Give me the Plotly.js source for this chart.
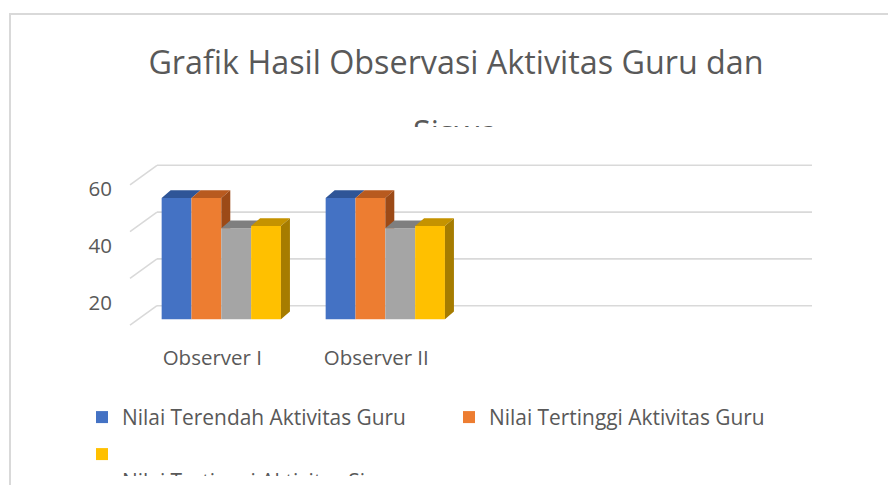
<!DOCTYPE html>
<html><head><meta charset="utf-8">
<script src="https://cdn.plot.ly/plotly-3.0.1.min.js"></script>
<style>
html,body{margin:0;padding:0;background:#fff;overflow:hidden;width:888px;height:485px;}
#chart{position:absolute;left:0;top:0;width:888px;height:510px;}
.mask{position:absolute;background:#fff;}
</style></head><body>
<div id="chart"></div>
<div class="mask" style="left:380px;top:127px;width:160px;height:22px;"></div>
<div class="mask" style="left:14px;top:476px;width:874px;height:40px;"></div>
<script>
// ---- data ----
const categories = ["Observer I", "Observer II"];
const seriesNames = [
  "Nilai Terendah Aktivitas Guru",
  "Nilai Tertinggi Aktivitas Guru",
  "Nilai Terendah Aktivitas Siswa",
  "Nilai Tertinggi Aktivitas Siswa"
];
const terendahGuru = [52, 52];
const tertinggiGuru = [52, 52];
const terendahSiswa = [39, 39];
const tertinggiSiswa = [40, 40];
const yTickVals = [20, 40, 60];
const gridValues = [0, 20, 40, 60];
const titleLine1 = "Grafik Hasil Observasi Aktivitas Guru dan";
const titleLine2 = "Siswa";

// ---- styles ----
const frontColors = ["#4472C4", "#ED7D31", "#A5A5A5", "#FFC000"];
const topColors   = ["#2F5597", "#B85A1F", "#7F7F7F", "#C59300"];
const sideColors  = ["#27477F", "#9C4A17", "#6B6B6B", "#A67C00"];
const legendOf    = ["legend", "legend", null, "legend2"];
const FONT = "'Open Sans', 'Noto Sans', sans-serif";
const TXT = "#595959";
const W = 888, H = 510;
const px = x => x / W;
const py = y => 1 - y / H;

const seriesValues = [terendahGuru, tertinggiGuru, terendahSiswa, tertinggiSiswa];
const nS = seriesValues.length;
const bargap = 0.2727;
const groupW = 1 - bargap;
const bw = groupW / nS;
const dX = 9 / 164;   // depth offset in category units
const dY = 3.3;       // depth offset in value units

function topPoly(L, R, h, h1) {
  if (h1 == null || h1 <= h) return [[L,h],[R,h],[R+dX,h+dY],[L+dX,h+dY]];
  if (h1 >= h + dY) return [[L,h],[R,h],[R,h+dY],[L+dX,h+dY]];
  const xc = R + (h1 - h) / dY * dX;
  return [[L,h],[R,h],[R,h1],[xc,h1],[R+dX,h+dY],[L+dX,h+dY]];
}
function sidePoly(R, h, h1) {
  if (h1 == null) return [[R,0],[R,h],[R+dX,h+dY],[R+dX,dY]];
  if (h1 >= h) return null;
  return [[R,h1],[R,h],[R+dX,h+dY],[R+dX,h1]];
}

const traces = [];
// front faces: real bars
seriesValues.forEach((vals, j) => {
  const t = {
    type: "bar", name: seriesNames[j], x: categories, y: vals,
    marker: {color: frontColors[j], line: {width: 0}},
    xaxis: "x", yaxis: "y", hoverinfo: "skip"
  };
  if (legendOf[j]) { t.legend = legendOf[j]; } else { t.showlegend = false; }
  if (j === 3) t.name = "\u00a0<br>" + seriesNames[j];
  traces.push(t);
});
// top and side faces derived from the same values
seriesValues.forEach((vals, j) => {
  const tx = [], ty = [], sx = [], sy = [];
  categories.forEach((c, i) => {
    const L = i - groupW / 2 + j * bw, R = L + bw;
    const h = vals[i];
    const h1 = j < nS - 1 ? seriesValues[j + 1][i] : null;
    topPoly(L, R, h, h1).forEach(p => { tx.push(p[0]); ty.push(p[1]); });
    tx.push(null); ty.push(null);
    const sp = sidePoly(R, h, h1);
    if (sp) { sp.forEach(p => { sx.push(p[0]); sy.push(p[1]); }); sx.push(null); sy.push(null); }
  });
  traces.push({type: "scatter", mode: "lines", x: tx, y: ty, fill: "toself",
    fillcolor: topColors[j], line: {width: 0, color: topColors[j]},
    xaxis: "x2", yaxis: "y", showlegend: false, hoverinfo: "skip"});
  if (sx.length) traces.push({type: "scatter", mode: "lines", x: sx, y: sy, fill: "toself",
    fillcolor: sideColors[j], line: {width: 0, color: sideColors[j]},
    xaxis: "x2", yaxis: "y", showlegend: false, hoverinfo: "skip"});
});
// helper traces so that the grid & label axes exist
traces.push({type: "scatter", x: [], y: [], xaxis: "x", yaxis: "y3", showlegend: false, hoverinfo: "skip"});
traces.push({type: "scatter", x: [], y: [], xaxis: "x", yaxis: "y4", showlegend: false, hoverinfo: "skip"});

// back wall grid + floor diagonals
const GRID = "#d9d9d9";
const shapes = [];
gridValues.forEach(v => {
  shapes.push({type: "line", layer: "below", xref: "paper", x0: px(157), x1: px(812),
    yref: "y3", y0: v, y1: v, line: {color: GRID, width: 1.6}});
  shapes.push({type: "line", layer: "below", xref: "paper", xsizemode: "pixel", xanchor: px(157),
    x0: -27, x1: 0, yref: "y3", ysizemode: "pixel", yanchor: v, y0: -19.5, y1: 0,
    line: {color: GRID, width: 1.6}});
});
// chart-area border (top & left)
shapes.push({type: "line", layer: "above", xref: "paper", yref: "paper", x0: px(9), x1: 1.01, y0: py(14), y1: py(14), line: {color: "#d9d9d9", width: 2}});
shapes.push({type: "line", layer: "above", xref: "paper", yref: "paper", x0: px(10), x1: px(10), y0: py(14), y1: -0.1, line: {color: "#d9d9d9", width: 2}});

const yDom = [py(335), py(150)];
const layout = {
  width: W, height: H,
  margin: {l: 0, r: 0, t: 0, b: 0},
  paper_bgcolor: "#fff", plot_bgcolor: "rgba(0,0,0,0)",
  font: {family: FONT, color: TXT, size: 20.9},
  title: {text: titleLine1, font: {family: FONT, size: 32.3, color: TXT},
    x: px(456), xanchor: "center", y: py(63), yanchor: "middle"},
  annotations: [{text: titleLine2, xref: "paper", yref: "paper", x: px(455), y: py(107),
    xanchor: "center", yanchor: "top", showarrow: false, font: {family: FONT, size: 32.3, color: TXT}}],
  barmode: "group", bargap: bargap, bargroupgap: 0,
  xaxis: {domain: [px(139.3), px(795.3)], type: "category", categoryarray: categories,
    categoryorder: "array", range: [-0.5, 3.5], showgrid: false, zeroline: false, showline: false,
    ticks: "", tickfont: {size: 20.5, color: TXT}, ticklabelshift: -9, ticklabelstandoff: 8, anchor: "y"},
  xaxis2: {overlaying: "x", range: [-0.5, 3.5], visible: false, anchor: "y"},
  yaxis: {domain: yDom, range: [-6.724, 72.51], visible: false, anchor: "x"},
  yaxis3: {overlaying: "y", range: [-12.52, 66.54], visible: false, anchor: "x"},
  yaxis4: {overlaying: "y", anchor: "free", position: px(112), side: "left",
    range: [8.88, 73.79], tickvals: yTickVals, ticks: "", showgrid: false, zeroline: false,
    showline: false, tickfont: {size: 20.5, color: TXT}},
  legend: {orientation: "h", x: px(82), y: py(397), xanchor: "left", yanchor: "top",
    entrywidth: 322, entrywidthmode: "pixels", bgcolor: "rgba(0,0,0,0)",
    font: {family: FONT, size: 20.9, color: TXT}, traceorder: "normal"},
  legend2: {orientation: "h", x: px(82), y: py(434), xanchor: "left", yanchor: "top",
    valign: "top", bgcolor: "rgba(0,0,0,0)", font: {family: FONT, size: 20.9, color: TXT}},
  shapes: shapes,
  showlegend: true
};
Plotly.newPlot("chart", traces, layout, {staticPlot: true, displayModeBar: false});
</script>
</body></html>
